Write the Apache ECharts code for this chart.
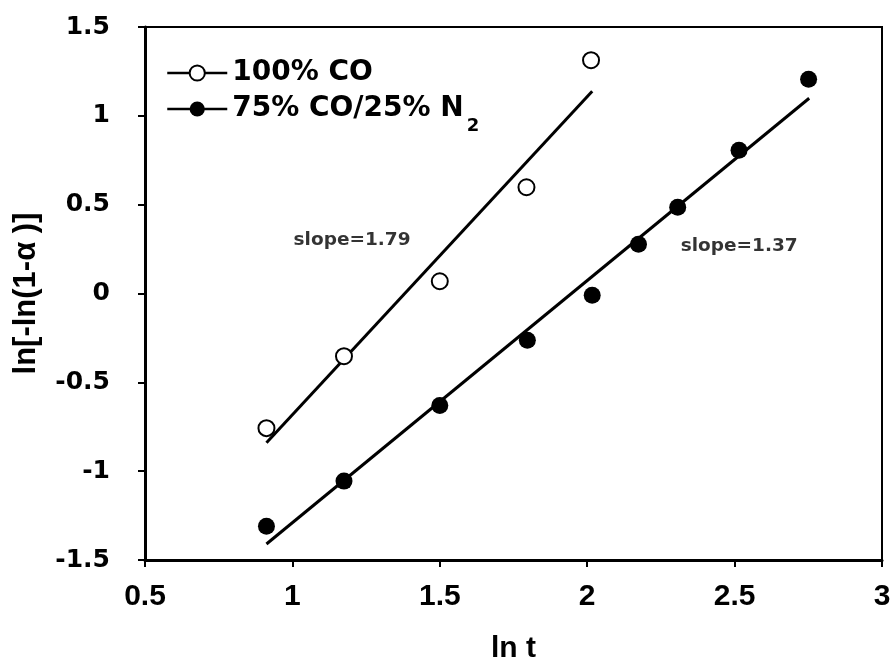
<!DOCTYPE html>
<html>
<head>
<meta charset="utf-8">
<script src="https://cdn.jsdelivr.net/npm/echarts@6/dist/echarts.min.js"></script>
<style>html,body{margin:0;padding:0;background:#fff;}#c{width:894px;height:669px;}</style>
</head>
<body>
<div id="c"></div>
<script>
// ---- data ----
const seriesNames = ['100% CO', '75% CO/25% N2'];
const co100 = [[0.912, -0.758], [1.175, -0.353], [1.500, 0.069], [1.794, 0.598], [2.013, 1.313]];
const co75 = [[0.912, -1.310], [1.175, -1.056], [1.500, -0.630], [1.797, -0.263], [2.017, -0.010],
              [2.174, 0.277], [2.307, 0.485], [2.515, 0.806], [2.751, 1.206]];
const fit100 = [[0.912, -0.840], [2.017, 1.138]];
const fit75 = [[0.912, -1.410], [2.753, 1.099]];
const annotations = [
  {text: 'slope=1.79', x: 1.004, y: 0.300},
  {text: 'slope=1.37', x: 2.317, y: 0.266}
];
const xTicks = {min: 0.5, max: 3, interval: 0.5};
const yTicks = {min: -1.5, max: 1.5, interval: 0.5};
const xTitle = 'ln t';
const yTitle = 'ln[-ln(1-\u03b1 )]';

const chart = echarts.init(document.getElementById('c'), null, {renderer: 'canvas'});
const axisFontX = {fontFamily: 'Liberation Sans', fontWeight: 'bold', fontSize: 30, color: '#000'};
const axisFontY = {fontFamily: 'DejaVu Sans', fontWeight: 'bold', fontSize: 25, color: '#000'};

chart.setOption({
  animation: false,
  backgroundColor: '#fff',
  grid: {left: 145, right: 12, top: 27, bottom: 107, show: true, borderColor: '#000', borderWidth: 2},
  legend: {
    data: seriesNames,
    orient: 'vertical',
    left: 161, top: 54,
    itemWidth: 60, itemHeight: 19, itemGap: 8,
    lineStyle: {width: 2.5, color: '#000', opacity: 1},
    textStyle: {
      fontFamily: 'DejaVu Sans', fontWeight: 'bold', fontSize: 28, color: '#000',
      rich: {
        a: {fontFamily: 'DejaVu Sans', fontWeight: 'bold', fontSize: 28, color: '#000', lineHeight: 34},
        b: {fontFamily: 'DejaVu Sans', fontWeight: 'bold', fontSize: 28, color: '#000', lineHeight: 52},
        sub: {fontFamily: 'DejaVu Sans', fontWeight: 'bold', fontSize: 18, color: '#000', lineHeight: 52, verticalAlign: 'bottom', padding: [0, 0, 0, 3]}
      }
    },
    formatter: function (n) {
      if (n === seriesNames[1]) return '{b|75% CO/25% N}{sub|2}';
      return '{a|' + n + '}';
    }
  },
  xAxis: {
    type: 'value', min: xTicks.min, max: xTicks.max, interval: xTicks.interval,
    name: xTitle, nameLocation: 'middle', nameGap: 74,
    nameTextStyle: {fontFamily: 'Liberation Sans', fontWeight: 'bold', fontSize: 30, color: '#000'},
    axisLine: {show: true, onZero: false, lineStyle: {color: '#000', width: 3}},
    axisTick: {show: true, inside: false, length: 7, lineStyle: {color: '#000', width: 2}},
    axisLabel: Object.assign({margin: 22}, axisFontX),
    splitLine: {show: false}
  },
  yAxis: {
    type: 'value', min: yTicks.min, max: yTicks.max, interval: yTicks.interval,
    name: yTitle, nameLocation: 'middle', nameGap: 103,
    nameTextStyle: {fontFamily: 'Liberation Sans', fontWeight: 'bold', fontSize: 31, color: '#000'},
    axisLine: {show: true, onZero: false, lineStyle: {color: '#000', width: 3}},
    axisTick: {show: true, inside: false, length: 7, lineStyle: {color: '#000', width: 2}},
    axisLabel: Object.assign({margin: 35}, axisFontY),
    splitLine: {show: false}
  },
  series: [
    {
      name: seriesNames[0], type: 'line', data: co100, symbol: 'circle', symbolSize: 16, showSymbol: true,
      lineStyle: {width: 0, opacity: 0},
      itemStyle: {color: '#fff', borderColor: '#000', borderWidth: 2}, z: 5
    },
    {
      name: seriesNames[1], type: 'line', data: co75, symbol: 'circle', symbolSize: 17, showSymbol: true,
      lineStyle: {width: 0, opacity: 0},
      itemStyle: {color: '#000', borderColor: '#000', borderWidth: 0}, z: 5
    },
    {type: 'line', data: fit100, symbol: 'none', lineStyle: {color: '#000', width: 3}, z: 3},
    {type: 'line', data: fit75, symbol: 'none', lineStyle: {color: '#000', width: 3}, z: 3},
    {
      type: 'scatter', symbolSize: 0,
      data: annotations.map(a => ({value: [a.x, a.y], name: a.text})),
      label: {show: true, position: 'right', distance: 0, formatter: p => p.name,
        fontFamily: 'DejaVu Sans', fontWeight: 'bold', fontSize: 18.5, color: '#000'},
      z: 6
    }
  ]
});
</script>
</body>
</html>
